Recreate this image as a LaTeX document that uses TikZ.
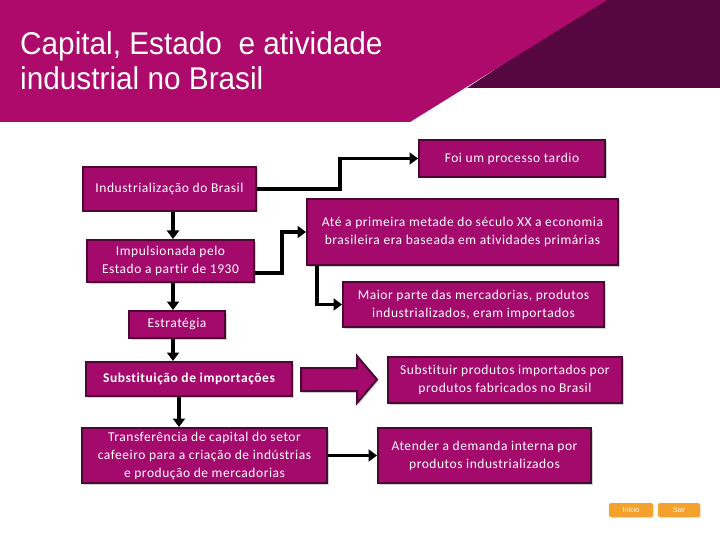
\documentclass[tikz,border=0pt]{standalone}
\usepackage{fontspec}
\usetikzlibrary{arrows.meta,shadows}
\newfontfamily\titlefont{Liberation Sans}
\newfontfamily\boxfont[LetterSpace=4,Ligatures={NoCommon}]{Carlito}
\newfontfamily\btnfont{Liberation Sans}
\definecolor{hdrmag}{HTML}{AD0A6B}
\definecolor{hdrdark}{HTML}{57073F}
\definecolor{boxfill}{HTML}{A30A6C}
\definecolor{boxline}{HTML}{4A0833}
\definecolor{btnorange}{HTML}{F5A22D}
\tikzset{
  box/.style={draw=boxline, line width=2pt, fill=boxfill, text=white, align=center,
    inner sep=0pt, font=\boxfont\fontsize{13.5}{18}\selectfont,
    drop shadow={shadow xshift=1.5pt, shadow yshift=-1.5pt, fill=black!35, opacity=0.5}},
  conn/.style={line width=3.5pt, draw=black, -{Triangle[length=8.5pt,width=12pt]}},
  btn/.style={fill=btnorange, rounded corners=2pt, text=white, inner sep=0pt,
    font=\btnfont\fontsize{7}{8}\selectfont, minimum height=14pt,
    drop shadow={shadow xshift=1pt, shadow yshift=-1pt, fill=black!25, opacity=0.4}},
  titletext/.style={text=white, align=left, anchor=north west, inner sep=0pt,
    font=\titlefont\fontsize{31.5}{35}\selectfont, xscale=0.945}
}
\begin{document}
\begin{tikzpicture}[x=1pt,y=-1pt]
\useasboundingbox (0,0) rectangle (720,540);
\fill[white] (0,0) rectangle (720,540);
% header
\fill[hdrdark] (600,0) -- (720,0) -- (720,88) -- (467,88) -- cycle;
\fill[hdrmag] (0,0) -- (607,0) -- (410,122) -- (0,122) -- cycle;
\node[titletext] (title) at (20,31) {Capital, Estado\ \ e atividade\\industrial no Brasil};

% boxes
\node[box, minimum width=186pt, minimum height=37pt] (foi) at (512,158.5) {Foi um processo tardio};
\node[box, minimum width=173pt, minimum height=44pt] (ind) at (169.5,189) {Industrialização do Brasil};
\node[box, minimum width=167pt, minimum height=42pt] (imp) at (170.5,261) {Impulsionada pelo\\Estado a partir de 1930};
\node[box, minimum width=96pt, minimum height=27pt] (est) at (177,324.5) {Estratégia};
\node[box, minimum width=311pt, minimum height=66pt] (ate) at (462.5,232) {Até a primeira metade do século XX a economia\\brasileira era baseada em atividades primárias};
\node[box, minimum width=261pt, minimum height=45pt] (mai) at (473.5,304.5) {Maior parte das mercadorias, produtos\\industrializados, eram importados};
\node[box, minimum width=206pt, minimum height=34pt] (sub) at (189,379) {\bfseries Substituição de importações};
\node[box, minimum width=234pt, minimum height=46pt] (sbt) at (505,380) {Substituir produtos importados por\\produtos fabricados no Brasil};
\node[box, minimum width=245pt, minimum height=55pt] (tra) at (204.5,455.5) {Transferência de capital do setor\\cafeeiro para a criação de indústrias\\e produção de mercadorias};
\node[box, minimum width=213pt, minimum height=55pt] (atd) at (484.5,455.5) {Atender a demanda interna por\\produtos industrializados};

% block arrow
\filldraw[draw=boxline, line width=2pt, fill=boxfill, line join=miter,
  drop shadow={shadow xshift=1.5pt, shadow yshift=-1.5pt, fill=black!35, opacity=0.5}]
  (301,368) -- (357,368) -- (357,356) -- (377,379.5) -- (357,403) -- (357,391) -- (301,391) -- cycle;

% connectors
\draw[conn] (ind.east) -- ++(83,0) |- (foi.west);
\draw[conn] ([xshift=3.5pt]ind.south) -- ([xshift=3.5pt]ind.south |- imp.north);
\draw[conn] ([yshift=-12pt]imp.east) -- ++(27,0) |- (ate.west);
\draw[conn] ([xshift=11pt]ate.south west) |- (mai.west);
\draw[conn] ([xshift=2.5pt]imp.south) -- ([xshift=2.5pt]imp.south |- est.north);
\draw[conn] ([xshift=-4pt]est.south) -- ([xshift=-4pt]est.south |- sub.north);
\draw[conn] ([xshift=-10pt]sub.south) -- ([xshift=-10pt]sub.south |- tra.north);
\draw[conn] (tra.east) -- (atd.west);

% buttons
\node[btn, minimum width=44pt] (inicio) at (631,510) {Início};
\node[btn, minimum width=42pt] (sair) at (679,510) {Sair};
\end{tikzpicture}
\end{document}
